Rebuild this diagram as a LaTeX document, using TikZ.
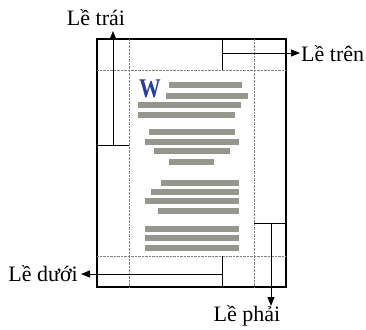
\documentclass[tikz,border=0pt]{standalone}
\usepackage{fontspec}
\setmainfont{Liberation Serif}
\usetikzlibrary{arrows.meta}
\definecolor{wordblue}{RGB}{40,62,150}
\definecolor{linegray}{RGB}{150,150,142}

\begin{document}
\begin{tikzpicture}[x=1pt, y=-1pt, every node/.style={font=\fontsize{22}{22}\selectfont, inner sep=0pt},
    marg/.style={line width=1pt, -{Triangle[length=9pt, width=7pt]}}]
    \useasboundingbox (0,0) rectangle (366,329);
    % Page with dotted margin guides
    \draw[line width=1.1pt] (97,39) rectangle (286,287);
    \draw[densely dotted, gray] (129,39) -- (129,287) (254,39) -- (254,287);
    \draw[densely dotted, gray] (97,70) -- (286,70) (97,256) -- (286,256);

    % Text on the page
    \node[text=wordblue, font=\fontsize{27}{27}\selectfont\bfseries, xscale=0.8] (wlogo) at (150,89) {W};
    \foreach \xa/\xb/\yy in {169/242/85, 166/248/96, 138/241/105, 138/235/115,
        149/235/132, 145/239/142, 154/230/151, 169/214/162,
        161/239/183, 151/239/192, 145/239/201, 158/239/211,
        145/239/229, 145/239/238, 145/239/248}
        \draw[line width=6pt, linegray] (\xa,\yy) -- (\xb,\yy);

    % Left margin
    \draw[line width=1pt] (97,145) -- (129,145);
    \coordinate (lm) at (113,145); \coordinate (lmtip) at (113,31);
    \node[anchor=base] (trai) at (96,26) {Lề trái};
    \draw[marg] (lm) -- (lmtip);

    % Top margin
    \draw[line width=1pt] (222,39) -- (222,70);
    \coordinate (tm) at (222,53);
    \node[anchor=west] (tren) at (301,54) {Lề trên};
    \draw[marg, shorten >=1pt] (tm) -- (tren.west |- tm);

    % Right margin
    \draw[line width=1pt] (254,223) -- (286,223);
    \coordinate (rm) at (271,223); \coordinate (rmtip) at (271,306);
    \node[anchor=base] (phai) at (247,321) {Lề phải};
    \draw[marg] (rm) -- (rmtip);

    % Bottom margin
    \draw[line width=1pt] (222,256) -- (222,287);
    \coordinate (bm) at (222,274);
    \node[anchor=base east] (duoi) at (78,281) {Lề dưới};
    \draw[marg, shorten >=3pt] (bm) -- (duoi.east |- bm);
\end{tikzpicture}
\end{document}
